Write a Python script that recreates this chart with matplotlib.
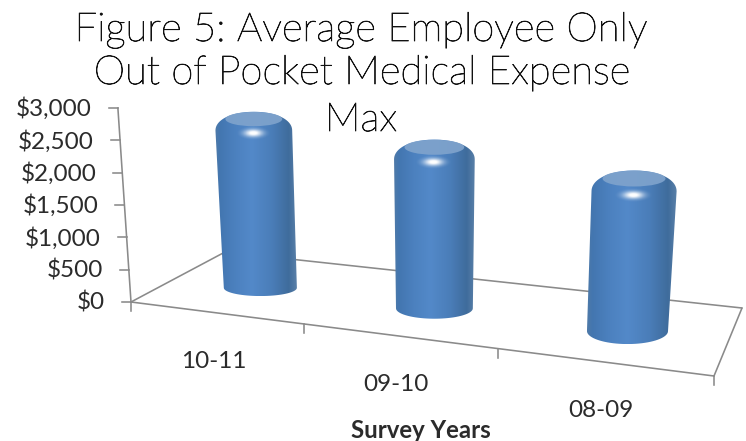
import numpy as np
import matplotlib
matplotlib.use("Agg")
import matplotlib.pyplot as plt
import matplotlib.patheffects as pe
from matplotlib.path import Path
from matplotlib.patches import PathPatch, Ellipse
from matplotlib.colors import LinearSegmentedColormap

# ---- data ----
categories = ["10-11", "09-10", "08-09"]
values = [2700, 2450, 2200]
y_ticks = [0, 500, 1000, 1500, 2000, 2500, 3000]
y_tick_labels = ["$0", "$500", "$1,000", "$1,500", "$2,000", "$2,500", "$3,000"]
title_lines = ["Figure 5: Average Employee Only", "Out of Pocket Medical Expense", "Max"]
x_title = "Survey Years"

W, H_ = 746, 441
fig = plt.figure(figsize=(W / 100, H_ / 100), dpi=100, facecolor="white")
ax = fig.add_axes([0, 0, 1, 1])
ax.set_xlim(0, W)
ax.set_ylim(H_, 0)
ax.axis("off")

# ---- projection: floor homography (u along categories, v into depth) + height ----
src = [(0, 0), (1, 0), (1, 1), (0, 1)]
dst = [(131, 302), (714, 376), (742, 308), (225, 252)]
A, b = [], []
for (u, v), (x, y) in zip(src, dst):
    A.append([u, v, 1, 0, 0, 0, -u * x, -v * x]); b.append(x)
    A.append([0, 0, 0, u, v, 1, -u * y, -v * y]); b.append(y)
h = np.append(np.linalg.solve(np.array(A, float), np.array(b, float)), 1).reshape(3, 3)
VP = (435.0, 4800.0)
Z_SCALE = 194.0 / 3000


def project(u, v=0.0, z=0.0):
    p = h @ np.array([u, v, 1.0])
    x0, y0 = p[0] / p[2], p[1] / p[2]
    y = y0 - z * Z_SCALE / p[2]
    x = x0 + (VP[0] - x0) * (y - y0) / (VP[1] - y0)
    return x, y


def depth_scale(u, v):
    return 1.0 / (h @ np.array([u, v, 1.0]))[2]


GRAY = "#8a8a8a"
TXT = "#2b2b2b"
LW = 1.15
font = "Lato"

# floor and axis lines
for a, b_ in [((0, 0), (0, 1)), ((0, 1), (1, 1)), ((1, 1), (1, 0)), ((0, 0), (1, 0))]:
    p, q = project(*a), project(*b_)
    ax.plot([p[0], q[0]], [p[1], q[1]], color=GRAY, lw=LW, zorder=1, solid_capstyle="round")
p, q = project(0, 0, 0), project(0, 0, max(y_ticks))
ax.plot([p[0], q[0]], [p[1], q[1]], color=GRAY, lw=LW, zorder=1)

for t, lab in zip(y_ticks, y_tick_labels):
    x, y = project(0, 0, t)
    ax.plot([x - 9, x], [y, y], color=GRAY, lw=LW, zorder=1)
    ax.text(x - 26, y + 1, lab, ha="right", va="center", fontsize=17.5,
            color=TXT, family=font)

n = len(categories)
for i in range(n + 1):
    x, y = project(i / n)
    ax.plot([x, x], [y, y + 9], color=GRAY, lw=LW, zorder=1)

# cylinders
cmap = LinearSegmentedColormap.from_list(
    "cyl", [(0, "#4f7aa8"), (0.06, "#4376b0"), (0.25, "#4c81bf"), (0.45, "#5389c9"),
            (0.7, "#4a7db8"), (0.9, "#3f6c9c"), (1, "#5a80a8")])
grad = np.linspace(0, 1, 256)[None, :]
glow = np.zeros((64, 64, 4))
gy, gx = np.mgrid[-1:1:64j, -1:1:64j]
glow[..., :3] = 1.0
glow[..., 3] = np.clip(1.15 * np.exp(-(gx ** 2 + gy ** 2) * 4.5) - 0.03, 0, 1)
BAR_R = 37.8
for i, val in enumerate(values):
    u, v = (i + 0.5) / n + 0.007, 0.45
    bx, by = project(u, v)
    tx, ty = project(u, v, val)
    s = depth_scale(u, v)
    rb = BAR_R * s
    rt = rb * 1.05
    eb = rb * (0.23 + 0.0022 * (by - 290))
    et = rt * 0.19
    sh = rt * 0.3
    verts = []
    th = np.linspace(np.pi, 0, 40)
    verts += [(bx + rb * np.cos(a), by + eb * np.sin(a)) for a in th]
    th = np.linspace(0, np.pi / 2, 24)
    e = 2 / 2.1
    verts += [(tx + rt * np.cos(a) ** e, ty + sh - (sh + et) * np.sin(a) ** e) for a in th]
    verts += [(tx - rt * np.cos(a) ** e, ty + sh - (sh + et) * np.sin(a) ** e) for a in th[::-1]]
    sil = PathPatch(Path(verts + [verts[0]]), facecolor="none", edgecolor="none", zorder=3)
    ax.add_patch(sil)
    left, right = min(bx - rb, tx - rt), max(bx + rb, tx + rt)
    im = ax.imshow(grad, cmap=cmap, extent=[left, right, by + eb, ty - et], aspect="auto",
                   zorder=3, interpolation="bilinear")
    im.set_clip_path(sil)
    # top plate
    plate = Ellipse((tx, ty), 2 * rt * 0.74, 2 * et * 0.98, facecolor="#7fa3cc",
                    edgecolor="none", zorder=4, alpha=0.92)
    ax.add_patch(plate)
    # specular highlight
    hx, hy = tx - 0.02 * rt, ty + sh * 1.25
    ax.imshow(glow, extent=[hx - rt * 0.5, hx + rt * 0.5, hy + 8, hy - 8], aspect="auto",
              zorder=5, interpolation="bilinear")

ax.set_xlim(0, W)
ax.set_ylim(H_, 0)

# category labels
for i, c in enumerate(categories):
    x, y = project((i + 0.5) / n)
    ax.text(x - 2, y + 49, c, ha="center", va="center", fontsize=17.5, color=TXT, family=font)

ax.text(421, 430, x_title, ha="center", va="center", fontsize=17.3, fontweight="bold",
        color=TXT, family=font)

for txt, (x, y) in zip(title_lines, [(361, 30), (362, 73), (361, 120)]):
    ax.text(x, y, txt, ha="center", va="center", fontsize=28.8, color="#111111",
            family="Lato", fontweight="light", zorder=6,
            path_effects=[pe.withStroke(linewidth=0.55, foreground="#111111")])

fig.savefig("out.png", dpi=100)
